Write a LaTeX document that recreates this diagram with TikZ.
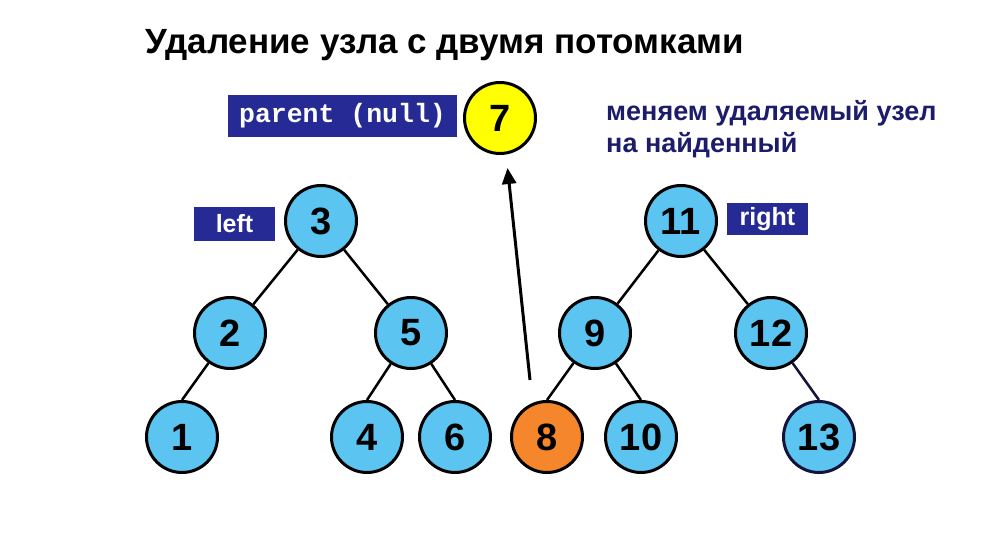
\documentclass[tikz,border=0pt]{standalone}
\usepackage{fontspec}
\setmainfont{Liberation Sans}
\setmonofont{Liberation Mono}
\usetikzlibrary{arrows.meta}
\definecolor{nodeblue}{HTML}{5BC4F1}
\definecolor{nodeorange}{HTML}{F5862B}
\definecolor{nodeyellow}{HTML}{FFFF00}
\definecolor{labelblue}{HTML}{252A95}
\definecolor{navytext}{HTML}{1C1C6B}
\definecolor{darknavy}{HTML}{14143A}
\tikzset{
  treenode/.style={circle, draw=black, line width=3pt, fill=nodeblue, minimum size=71pt, inner sep=0pt,
    font=\fontsize{38}{40}\selectfont\bfseries},
  edge/.style={line width=2.5pt, black},
  tagbox/.style={fill=labelblue, text=white, inner sep=0pt, font=\fontsize{25}{28}\selectfont\bfseries},
}
\begin{document}
\begin{tikzpicture}[x=1pt,y=-1pt]
\useasboundingbox (0,0) rectangle (1000,556);
\fill[white] (0,0) rectangle (1000,556);
% title
\node[font=\fontsize{35}{40}\selectfont\bfseries, anchor=base] (title) at (445,54) {Удаление узла с двумя потомками};
% nodes
\node[treenode, fill=nodeyellow] (n7) at (500,118) {7};
\node[treenode] (n3) at (321,221) {3};
\node[treenode] (n11) at (681,221) {11};
\node[treenode] (n2) at (230,333) {2};
\node[treenode] (n5) at (411,333) {5};
\node[treenode] (n9) at (595,333) {9};
\node[treenode] (n12) at (771,333) {12};
\node[treenode] (n1) at (182,437) {1};
\node[treenode] (n4) at (367,437) {4};
\node[treenode] (n6) at (455,437) {6};
\node[treenode, fill=nodeorange] (n8) at (547,437) {8};
\node[treenode] (n10) at (641,437) {10};
\node[treenode, draw=darknavy] (n13) at (819,437) {13};
% edges
\draw[edge] (n3) -- (n2);
\draw[edge] (n3) -- (n5);
\draw[edge] (n2) -- (n1.north);
\draw[edge] (n5) -- (n4.north);
\draw[edge] (n5) -- (n6.north);
\draw[edge] (n11) -- (n9);
\draw[edge] (n11) -- (n12);
\draw[edge] (n9) -- (n8.north);
\draw[edge] (n9) -- (n10.north);
\draw[edge, darknavy] (n12) -- (n13.north);
% arrow
\coordinate (arrstart) at (530,380);
\draw[line width=3pt, -{Triangle[length=16pt,width=14pt]}] (arrstart) -- (507.5,168);
% labels
\node[tagbox, minimum width=229pt, minimum height=42pt, font=\fontsize{26.5}{28}\selectfont\ttfamily\bfseries] (parent) at (342.5,116) {parent (null)};
\node[tagbox, minimum width=81pt, minimum height=34pt] (left) at (234.5,224) {left};
\node[tagbox, minimum width=81pt, minimum height=32pt] (right) at (767.5,219) {right};
% note
\node[font=\fontsize{27}{32}\selectfont\bfseries, text=navytext, align=left, anchor=north west, inner sep=0pt] (note) at (606,100) {меняем удаляемый узел\\на найденный};
\end{tikzpicture}
\end{document}
